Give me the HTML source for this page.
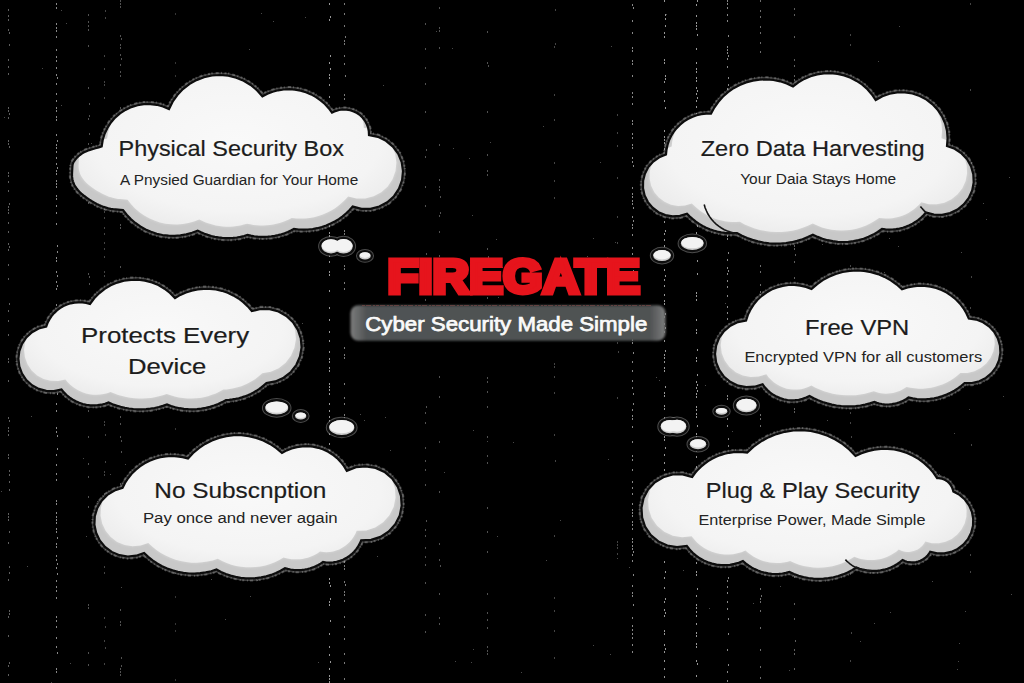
<!DOCTYPE html>
<html><head><meta charset="utf-8"><title>Firegate</title>
<style>
html,body{margin:0;padding:0;background:#000;}
body{width:1024px;height:683px;overflow:hidden;}
svg{display:block;}
text{font-family:"Liberation Sans",sans-serif;}
</style></head><body>
<svg width="1024" height="683" viewBox="0 0 1024 683">
<defs>
<filter id="bl2" x="-2%" y="-20%" width="104%" height="140%"><feGaussianBlur stdDeviation="0.9"/></filter>
<filter id="bl" x="-5%" y="-5%" width="110%" height="110%"><feGaussianBlur stdDeviation="1"/></filter>
<radialGradient id="wg" cx="50%" cy="45%" r="60%">
<stop offset="0" stop-color="#f9f9f9"/><stop offset="0.75" stop-color="#f4f4f4"/><stop offset="1" stop-color="#ebebeb"/>
</radialGradient>
<linearGradient id="ban" x1="0" y1="0" x2="1" y2="0">
<stop offset="0" stop-color="#7c7c7c"/><stop offset="0.05" stop-color="#505354"/><stop offset="0.95" stop-color="#4f5253"/><stop offset="1" stop-color="#7c7c7c"/>
</linearGradient>

<path id="c1" d="M101.7 146.4 L102.7 140.0 L104.6 133.8 L107.4 128.0 L110.9 122.5 L115.1 117.6 L120.0 113.4 L125.4 109.9 L131.3 107.1 L137.5 105.2 L143.9 104.2 L150.3 104.1 L156.8 104.8 L163.0 106.5 L169.0 109.0 L172.6 101.7 L177.3 95.0 L182.9 89.1 L189.3 84.1 L196.4 80.1 L204.0 77.2 L212.0 75.5 L220.1 75.0 L228.3 75.7 L236.2 77.7 L243.7 80.8 L250.7 85.0 L257.0 90.2 L262.4 96.3 L267.4 93.7 L272.7 91.7 L278.1 90.3 L283.7 89.5 L289.3 89.2 L294.9 89.6 L300.5 90.6 L305.9 92.2 L311.1 94.4 L316.0 97.1 L320.6 100.3 L324.9 104.0 L328.7 108.2 L332.0 112.7 L335.4 111.1 L339.0 110.0 L342.7 109.5 L346.4 109.6 L350.1 110.2 L353.7 111.4 L357.0 113.0 L360.1 115.2 L362.7 117.8 L365.0 120.8 L366.8 124.1 L368.1 127.6 L368.8 131.3 L369.0 135.0 L377.9 136.8 L386.0 140.8 L392.9 146.6 L398.3 153.9 L401.7 162.2 L403.0 171.2 L402.1 180.2 L399.0 188.7 L394.0 196.2 L387.3 202.3 L379.3 206.5 L370.5 208.8 L361.5 208.8 L352.7 206.6 L349.6 210.1 L346.2 213.3 L342.6 216.3 L338.8 219.1 L334.8 221.5 L330.6 223.6 L326.3 225.5 L321.8 227.0 L317.3 228.2 L312.7 229.0 L308.0 229.5 L303.3 229.7 L298.7 229.5 L294.0 229.0 L290.9 230.6 L287.8 232.0 L284.6 233.2 L281.4 234.2 L278.1 235.1 L274.7 235.8 L271.3 236.4 L267.9 236.7 L264.5 236.9 L261.1 236.9 L257.6 236.7 L254.2 236.3 L250.8 235.7 L247.5 235.0 L244.0 236.0 L240.4 236.9 L236.8 237.5 L233.1 237.9 L229.5 238.1 L225.8 238.1 L222.2 237.9 L218.5 237.4 L214.9 236.8 L211.3 236.0 L207.8 234.9 L204.4 233.7 L201.0 232.2 L197.7 230.6 L192.1 232.8 L186.3 234.4 L180.4 235.4 L174.5 235.9 L168.5 235.7 L162.5 235.0 L156.7 233.7 L151.0 231.8 L145.5 229.4 L140.3 226.4 L135.4 223.0 L130.8 219.1 L126.7 214.7 L123.0 210.0 L120.5 209.8 L118.1 209.6 L115.6 209.4 L113.1 209.2 L110.7 208.8 L108.3 208.3 L105.9 207.6 L103.6 206.9 L101.3 206.0 L99.0 205.0 L96.7 203.9 L94.4 202.6 L91.9 201.2 L89.4 199.6 L86.8 197.8 L84.3 196.0 L82.0 194.2 L80.0 192.4 L78.3 190.6 L76.9 188.8 L75.6 187.0 L74.5 185.2 L73.6 183.3 L72.9 181.3 L72.4 179.2 L72.1 176.9 L72.0 174.6 L72.1 172.3 L72.2 170.2 L72.3 168.3 L72.4 166.7 L72.5 165.4 L72.7 164.3 L73.0 163.2 L73.6 162.0 L74.4 160.8 L75.5 159.4 L76.7 157.9 L78.2 156.5 L79.9 155.0 L81.8 153.6 L84.0 152.3 L86.5 151.2 L89.3 150.1 L92.3 149.2 L95.5 148.3 L98.7 147.4 L101.7 146.4Z"/>
<clipPath id="clip_c1"><use href="#c1"/></clipPath>
<path id="c2" d="M666.0 154.5 L666.5 149.7 L667.5 145.0 L669.0 140.4 L671.1 136.0 L673.6 131.9 L676.6 128.1 L680.0 124.7 L683.7 121.6 L687.8 119.0 L692.1 116.9 L696.7 115.3 L701.4 114.2 L706.2 113.7 L711.0 113.7 L714.3 107.6 L718.2 102.0 L722.8 96.8 L728.0 92.2 L733.6 88.2 L739.7 85.0 L746.1 82.4 L752.8 80.6 L759.6 79.6 L766.5 79.4 L773.4 80.0 L780.2 81.3 L786.7 83.5 L793.0 86.4 L798.4 82.3 L804.3 78.9 L810.6 76.3 L817.2 74.4 L823.9 73.4 L830.7 73.2 L837.5 73.9 L844.2 75.4 L850.6 77.8 L856.6 80.9 L862.3 84.7 L867.4 89.3 L871.9 94.4 L875.7 100.0 L882.4 96.3 L889.6 93.7 L897.2 92.4 L904.9 92.3 L912.4 93.5 L919.7 96.0 L926.5 99.6 L932.5 104.3 L937.8 109.9 L942.0 116.3 L945.1 123.3 L947.0 130.7 L947.6 138.4 L947.0 146.0 L954.7 148.8 L961.5 153.4 L967.1 159.3 L971.1 166.5 L973.3 174.3 L973.7 182.5 L972.2 190.5 L968.8 198.0 L963.8 204.4 L957.5 209.6 L950.1 213.1 L942.1 214.8 L933.9 214.6 L926.0 212.5 L923.7 215.1 L921.1 217.6 L918.4 219.8 L915.6 221.8 L912.6 223.7 L909.4 225.3 L906.2 226.6 L902.9 227.7 L899.5 228.6 L896.0 229.2 L892.5 229.5 L889.0 229.6 L885.5 229.4 L882.0 229.0 L877.7 232.0 L873.2 234.6 L868.5 236.8 L863.6 238.7 L858.6 240.1 L853.5 241.2 L848.3 241.8 L843.1 242.0 L837.8 241.8 L832.7 241.2 L827.5 240.2 L822.5 238.8 L817.6 236.9 L812.9 234.7 L807.8 237.1 L802.5 239.2 L797.1 240.9 L791.6 242.2 L786.0 243.0 L780.4 243.5 L774.7 243.6 L769.1 243.3 L763.5 242.5 L757.9 241.4 L752.5 239.9 L747.2 238.0 L742.0 235.7 L737.0 233.0 L733.0 233.2 L729.1 233.2 L725.1 232.9 L721.2 232.3 L717.3 231.5 L713.5 230.5 L709.8 229.2 L706.1 227.7 L702.6 225.9 L699.2 223.9 L695.9 221.7 L692.8 219.2 L689.8 216.6 L687.0 213.8 L679.9 215.9 L672.6 216.4 L665.3 215.1 L658.5 212.2 L652.6 207.7 L647.9 202.1 L644.6 195.4 L643.0 188.2 L643.1 180.8 L644.9 173.7 L648.3 167.1 L653.2 161.6 L659.2 157.3 L666.0 154.5Z"/>
<clipPath id="clip_c2"><use href="#c2"/></clipPath>
<path id="c3" d="M46.2 326.5 L47.6 322.8 L49.4 319.4 L51.5 316.1 L54.1 313.1 L56.9 310.4 L60.0 308.1 L63.4 306.1 L67.0 304.5 L70.7 303.3 L74.5 302.6 L78.4 302.3 L82.4 302.4 L86.2 303.0 L90.0 304.0 L94.2 298.3 L99.1 293.3 L104.7 288.9 L110.7 285.3 L117.2 282.6 L124.0 280.7 L131.0 279.8 L138.0 279.7 L145.0 280.6 L151.9 282.4 L158.4 285.1 L164.5 288.7 L170.0 293.0 L175.0 298.0 L180.3 294.9 L185.9 292.5 L191.7 290.6 L197.7 289.4 L203.8 288.8 L209.9 288.8 L215.9 289.5 L221.9 290.8 L227.7 292.8 L233.2 295.4 L238.5 298.5 L243.3 302.2 L247.8 306.4 L251.8 311.0 L260.7 309.0 L269.7 309.2 L278.5 311.5 L286.4 316.0 L293.0 322.2 L297.9 329.9 L300.8 338.5 L301.6 347.5 L300.0 356.5 L296.4 364.8 L290.9 372.0 L283.7 377.7 L275.4 381.4 L266.5 383.0 L264.1 385.1 L261.6 387.2 L259.0 389.1 L256.4 390.8 L253.6 392.4 L250.7 393.9 L247.8 395.2 L244.8 396.4 L241.8 397.4 L238.7 398.2 L235.6 398.9 L232.4 399.4 L229.2 399.8 L226.0 400.0 L222.2 402.1 L218.2 404.0 L214.1 405.5 L209.9 406.9 L205.7 407.9 L201.4 408.7 L197.0 409.1 L192.7 409.3 L188.3 409.2 L183.9 408.8 L179.6 408.2 L175.3 407.2 L171.1 406.0 L167.0 404.5 L162.9 405.9 L158.8 407.0 L154.6 408.0 L150.4 408.7 L146.1 409.1 L141.8 409.3 L137.6 409.3 L133.3 409.0 L129.0 408.5 L124.8 407.8 L120.6 406.8 L116.5 405.6 L112.5 404.2 L108.5 402.5 L105.0 403.7 L101.3 404.7 L97.6 405.2 L93.9 405.4 L90.2 405.3 L86.4 404.8 L82.8 404.0 L79.2 402.8 L75.8 401.3 L72.5 399.5 L69.4 397.4 L66.5 395.0 L63.9 392.4 L61.5 389.5 L54.0 391.1 L46.2 390.9 L38.8 388.9 L32.0 385.2 L26.3 380.0 L22.0 373.6 L19.3 366.4 L18.4 358.7 L19.3 351.1 L22.0 343.8 L26.3 337.4 L32.0 332.2 L38.7 328.5 L46.2 326.5Z"/>
<clipPath id="clip_c3"><use href="#c3"/></clipPath>
<path id="c4" d="M746.1 320.5 L747.9 314.9 L750.4 309.6 L753.6 304.6 L757.3 300.0 L761.6 296.0 L766.4 292.5 L771.5 289.6 L777.0 287.4 L782.7 285.9 L788.5 285.0 L794.4 284.9 L800.2 285.6 L806.0 286.9 L811.5 289.0 L816.9 284.3 L822.7 280.1 L829.0 276.7 L835.7 274.0 L842.6 272.0 L849.7 270.9 L856.8 270.5 L864.0 270.9 L871.0 272.1 L877.9 274.1 L884.5 276.9 L890.8 280.4 L896.7 284.5 L902.0 289.3 L907.5 287.5 L913.2 286.3 L918.9 285.7 L924.7 285.8 L930.5 286.6 L936.1 288.0 L941.5 290.0 L946.7 292.6 L951.5 295.8 L956.0 299.5 L960.0 303.7 L963.5 308.3 L966.4 313.3 L968.8 318.6 L976.2 319.6 L983.1 322.3 L989.3 326.5 L994.3 331.9 L997.9 338.4 L1000.0 345.6 L1000.4 353.0 L999.1 360.3 L996.1 367.1 L991.6 373.1 L985.9 377.9 L979.3 381.2 L972.0 383.0 L964.6 383.0 L961.3 385.8 L957.9 388.4 L954.3 390.7 L950.5 392.8 L946.6 394.6 L942.5 396.1 L938.4 397.4 L934.2 398.3 L929.9 398.9 L925.6 399.3 L921.3 399.3 L917.0 399.0 L912.7 398.4 L908.5 397.5 L906.4 399.0 L904.2 400.2 L901.9 401.4 L899.5 402.3 L897.1 403.1 L894.6 403.7 L892.0 404.2 L889.5 404.4 L886.9 404.5 L884.4 404.3 L881.8 404.0 L879.3 403.5 L876.8 402.9 L874.4 402.0 L869.8 403.4 L865.2 404.6 L860.4 405.5 L855.7 406.1 L850.9 406.3 L846.1 406.3 L841.3 406.0 L836.5 405.5 L831.8 404.6 L827.2 403.4 L822.6 402.0 L818.1 400.2 L813.7 398.3 L809.5 396.0 L806.1 397.6 L802.5 398.9 L798.8 399.8 L795.0 400.2 L791.2 400.3 L787.5 400.0 L783.7 399.3 L780.1 398.1 L776.6 396.6 L773.3 394.8 L770.2 392.6 L767.4 390.1 L764.8 387.3 L762.6 384.2 L754.6 386.7 L746.3 387.2 L738.1 385.7 L730.6 382.1 L724.1 376.8 L719.2 370.0 L716.1 362.3 L715.0 354.0 L716.1 345.7 L719.1 337.9 L724.0 331.1 L730.4 325.7 L737.9 322.1 L746.1 320.5Z"/>
<clipPath id="clip_c4"><use href="#c4"/></clipPath>
<path id="c5" d="M122.5 487.9 L125.0 482.9 L128.1 478.2 L131.6 473.8 L135.6 469.9 L139.9 466.3 L144.6 463.3 L149.6 460.7 L154.9 458.7 L160.3 457.2 L165.8 456.3 L171.4 456.0 L177.0 456.3 L182.6 457.2 L188.0 458.6 L193.1 453.0 L198.9 448.1 L205.1 443.9 L211.9 440.5 L218.9 437.9 L226.3 436.1 L233.8 435.2 L241.3 435.2 L248.8 436.1 L256.2 437.9 L263.3 440.5 L270.0 443.9 L276.3 448.1 L282.0 453.0 L286.7 450.4 L291.7 448.5 L296.9 447.1 L302.3 446.3 L307.6 446.2 L313.0 446.7 L318.3 447.8 L323.4 449.5 L328.2 451.8 L332.8 454.7 L337.0 458.1 L340.7 461.9 L344.0 466.2 L346.8 470.8 L356.0 467.2 L365.8 466.3 L375.6 467.9 L384.5 472.0 L392.1 478.4 L397.7 486.5 L401.0 495.8 L401.7 505.7 L399.8 515.4 L395.3 524.2 L388.8 531.5 L380.5 536.9 L371.1 539.9 L361.2 540.3 L359.9 543.4 L358.2 546.4 L356.3 549.2 L354.1 551.8 L351.6 554.2 L349.0 556.3 L346.1 558.1 L343.0 559.7 L339.8 560.9 L336.6 561.8 L333.2 562.4 L329.8 562.6 L326.4 562.5 L323.0 562.0 L320.6 563.6 L318.2 565.0 L315.6 566.3 L313.0 567.4 L310.3 568.3 L307.5 569.0 L304.7 569.6 L301.9 569.9 L299.1 570.1 L296.2 570.1 L293.4 569.9 L290.5 569.5 L287.7 568.9 L285.0 568.2 L280.6 570.8 L275.9 573.0 L271.1 574.9 L266.2 576.4 L261.2 577.4 L256.1 578.1 L250.9 578.4 L245.8 578.3 L240.7 577.8 L235.6 576.9 L230.6 575.6 L225.8 574.0 L221.0 571.9 L216.5 569.5 L211.2 571.2 L205.7 572.4 L200.2 573.2 L194.6 573.6 L189.0 573.5 L183.4 572.9 L177.9 571.9 L172.5 570.4 L167.2 568.5 L162.1 566.2 L157.2 563.5 L152.6 560.3 L148.2 556.8 L144.1 553.0 L136.2 555.7 L127.8 556.5 L119.5 555.2 L111.7 551.9 L105.0 546.9 L99.7 540.4 L96.1 532.8 L94.4 524.6 L94.8 516.2 L97.2 508.1 L101.4 500.9 L107.3 494.9 L114.5 490.5 L122.5 487.9Z"/>
<clipPath id="clip_c5"><use href="#c5"/></clipPath>
<path id="c6" d="M692.1 477.0 L694.8 473.3 L697.7 469.9 L701.0 466.7 L704.4 463.8 L708.1 461.1 L712.0 458.8 L716.1 456.8 L720.3 455.1 L724.7 453.8 L729.1 452.8 L733.6 452.2 L738.1 452.0 L742.7 452.1 L747.2 452.6 L753.6 446.7 L760.7 441.6 L768.3 437.4 L776.4 434.1 L784.8 431.8 L793.4 430.5 L802.1 430.2 L810.8 431.0 L819.3 432.9 L827.6 435.7 L835.4 439.5 L842.7 444.2 L849.5 449.7 L855.5 456.0 L861.5 453.2 L867.8 451.1 L874.3 449.6 L880.9 448.9 L887.6 448.8 L894.2 449.5 L900.7 450.9 L907.0 453.0 L913.0 455.7 L918.8 459.1 L924.1 463.1 L929.0 467.6 L933.3 472.6 L937.1 478.1 L938.7 478.1 L940.3 478.4 L941.9 478.7 L943.5 479.3 L945.0 479.9 L946.4 480.8 L947.7 481.7 L948.9 482.8 L950.0 484.1 L950.9 485.4 L951.7 486.8 L952.4 488.3 L952.9 489.8 L953.3 491.4 L959.5 494.8 L964.9 499.5 L969.1 505.3 L971.9 511.8 L973.2 518.8 L973.0 525.9 L971.2 532.8 L967.9 539.2 L963.3 544.6 L957.7 548.9 L951.2 551.9 L944.3 553.4 L937.1 553.3 L930.2 551.7 L929.0 553.7 L927.6 555.5 L926.0 557.1 L924.2 558.5 L922.3 559.8 L920.3 560.8 L918.1 561.6 L915.9 562.1 L913.6 562.4 L911.3 562.4 L909.1 562.2 L906.8 561.7 L904.7 561.0 L902.6 560.0 L899.9 562.2 L896.9 564.2 L893.9 566.0 L890.7 567.5 L887.4 568.7 L884.0 569.7 L880.5 570.4 L877.0 570.8 L873.5 570.9 L870.0 570.8 L866.5 570.4 L863.0 569.7 L859.6 568.7 L856.3 567.5 L852.0 570.1 L847.6 572.5 L843.0 574.4 L838.2 576.0 L833.4 577.3 L828.4 578.2 L823.5 578.7 L818.4 578.9 L813.4 578.6 L808.5 578.0 L803.5 577.1 L798.7 575.7 L794.0 574.0 L789.4 572.0 L785.9 572.9 L782.4 573.5 L778.9 573.9 L775.3 574.0 L771.7 573.8 L768.2 573.4 L764.7 572.7 L761.2 571.8 L757.9 570.6 L754.6 569.1 L751.5 567.4 L748.5 565.5 L745.6 563.4 L742.9 561.0 L738.7 562.7 L734.4 563.9 L730.0 564.8 L725.5 565.1 L721.0 565.1 L716.5 564.6 L712.1 563.6 L707.9 562.3 L703.7 560.5 L699.8 558.3 L696.1 555.7 L692.7 552.8 L689.6 549.5 L686.8 546.0 L677.0 547.1 L667.3 545.5 L658.3 541.4 L650.8 535.1 L645.2 527.0 L642.1 517.6 L641.5 507.8 L643.5 498.2 L648.1 489.5 L654.9 482.3 L663.3 477.2 L672.7 474.5 L682.6 474.4 L692.1 477.0Z"/>
<clipPath id="clip_c6"><use href="#c6"/></clipPath>
</defs>
<rect width="1024" height="683" fill="#000"/>
<path d="M8 9h1v2h-1zM8 15h1v2h-1zM8 19h1v2h-1zM8 29h1v2h-1zM9 32h1v2h-1zM9 44h1v2h-1zM8 59h1v2h-1zM8 66h1v2h-1zM8 73h1v2h-1zM8 107h1v2h-1zM8 110h1v2h-1zM9 113h1v2h-1zM8 117h1v2h-1zM8 140h1v2h-1zM8 143h1v2h-1zM9 146h1v2h-1zM8 172h1v2h-1zM8 175h1v2h-1zM8 181h1v2h-1zM8 190h1v2h-1zM9 203h1v2h-1zM8 206h1v2h-1zM8 209h1v2h-1zM8 212h1v2h-1zM8 222h1v2h-1zM8 231h1v2h-1zM8 243h1v2h-1zM9 246h1v2h-1zM8 249h1v2h-1zM8 264h1v2h-1zM8 278h1v2h-1zM9 303h1v2h-1zM8 310h1v2h-1zM8 320h1v2h-1zM8 334h1v2h-1zM8 358h1v2h-1zM8 361h1v2h-1zM8 380h1v2h-1zM8 417h1v2h-1zM9 420h1v2h-1zM8 427h1v2h-1zM8 430h1v2h-1zM8 434h1v2h-1zM8 454h1v2h-1zM8 457h1v2h-1zM9 470h1v2h-1zM9 474h1v2h-1zM9 481h1v2h-1zM9 489h1v2h-1zM8 513h1v2h-1zM8 516h1v2h-1zM8 519h1v2h-1zM9 531h1v2h-1zM8 542h1v2h-1zM9 566h1v2h-1zM9 572h1v2h-1zM8 579h1v2h-1zM9 610h1v2h-1zM9 613h1v2h-1zM8 616h1v2h-1zM8 635h1v2h-1zM9 662h1v2h-1zM8 665h1v2h-1zM8 674h1v2h-1z" fill="#b4b4b4" opacity="0.52"/>
<path d="M56 3h1v2h-1zM56 7h1v2h-1zM56 23h1v2h-1zM56 27h1v2h-1zM56 30h1v2h-1zM56 36h1v2h-1zM56 49h1v2h-1zM56 56h1v2h-1zM56 60h1v2h-1zM56 67h1v2h-1zM56 74h1v2h-1zM57 77h1v2h-1zM56 83h1v2h-1zM56 93h1v2h-1zM56 100h1v2h-1zM56 107h1v2h-1zM56 110h1v2h-1zM56 116h1v2h-1zM56 119h1v2h-1zM56 134h1v2h-1zM57 140h1v2h-1zM56 144h1v2h-1zM56 147h1v2h-1zM56 151h1v2h-1zM56 157h1v2h-1zM56 163h1v2h-1zM57 167h1v2h-1zM56 170h1v2h-1zM56 173h1v2h-1zM56 180h1v2h-1zM56 183h1v2h-1zM56 186h1v2h-1zM56 195h1v2h-1zM56 198h1v2h-1zM56 205h1v2h-1zM56 212h1v2h-1zM56 223h1v2h-1zM57 245h1v2h-1zM57 251h1v2h-1zM56 257h1v2h-1zM56 260h1v2h-1zM56 271h1v2h-1zM57 275h1v2h-1zM56 281h1v2h-1zM57 285h1v2h-1zM56 288h1v2h-1zM56 304h1v2h-1zM56 310h1v2h-1zM56 317h1v2h-1zM57 323h1v2h-1zM56 337h1v2h-1zM56 341h1v2h-1zM56 344h1v2h-1zM56 347h1v2h-1zM56 356h1v2h-1zM57 360h1v2h-1zM56 363h1v2h-1zM56 366h1v2h-1zM56 369h1v2h-1zM57 373h1v2h-1zM56 383h1v2h-1zM57 393h1v2h-1zM56 403h1v2h-1zM56 410h1v2h-1zM56 427h1v2h-1zM56 431h1v2h-1zM57 435h1v2h-1zM57 448h1v2h-1zM56 454h1v2h-1zM56 464h1v2h-1zM56 473h1v2h-1zM56 479h1v2h-1zM56 500h1v2h-1zM56 503h1v2h-1zM56 512h1v2h-1zM56 516h1v2h-1zM56 519h1v2h-1zM56 522h1v2h-1zM56 528h1v2h-1zM56 531h1v2h-1zM57 537h1v2h-1zM56 543h1v2h-1zM56 546h1v2h-1zM56 555h1v2h-1zM56 559h1v2h-1zM57 563h1v2h-1zM56 567h1v2h-1zM57 573h1v2h-1zM56 580h1v2h-1zM56 586h1v2h-1zM56 590h1v2h-1zM56 597h1v2h-1zM56 616h1v2h-1zM56 620h1v2h-1zM56 626h1v2h-1zM56 637h1v2h-1zM56 646h1v2h-1zM57 652h1v2h-1zM56 668h1v2h-1zM56 671h1v2h-1z" fill="#b4b4b4" opacity="0.75"/>
<path d="M88 14h1v2h-1zM88 21h1v2h-1zM88 25h1v2h-1zM88 29h1v2h-1zM88 45h1v2h-1zM88 87h1v2h-1zM89 103h1v2h-1zM89 115h1v2h-1zM88 118h1v2h-1zM89 133h1v2h-1zM88 143h1v2h-1zM88 172h1v2h-1zM88 184h1v2h-1zM88 202h1v2h-1zM88 273h1v2h-1zM89 276h1v2h-1zM89 283h1v2h-1zM88 312h1v2h-1zM89 323h1v2h-1zM88 363h1v2h-1zM88 366h1v2h-1zM88 410h1v2h-1zM88 436h1v2h-1zM88 463h1v2h-1zM88 476h1v2h-1zM88 496h1v2h-1zM88 506h1v2h-1zM88 604h1v2h-1zM88 607h1v2h-1zM88 652h1v2h-1zM88 664h1v2h-1z" fill="#b4b4b4" opacity="0.45"/>
<path d="M105 10h1v2h-1zM105 17h1v2h-1zM104 55h1v2h-1zM104 68h1v2h-1zM104 81h1v2h-1zM104 84h1v2h-1zM104 97h1v2h-1zM104 144h1v2h-1zM104 181h1v2h-1zM104 208h1v2h-1zM104 211h1v2h-1zM104 217h1v2h-1zM104 227h1v2h-1zM104 233h1v2h-1zM104 242h1v2h-1zM104 248h1v2h-1zM104 256h1v2h-1zM104 271h1v2h-1zM104 275h1v2h-1zM104 292h1v2h-1zM104 368h1v2h-1zM104 392h1v2h-1zM104 421h1v2h-1zM104 424h1v2h-1zM105 434h1v2h-1zM105 461h1v2h-1zM104 471h1v2h-1zM104 474h1v2h-1zM104 493h1v2h-1zM105 511h1v2h-1zM104 527h1v2h-1zM104 539h1v2h-1zM104 566h1v2h-1zM104 572h1v2h-1zM104 617h1v2h-1zM105 626h1v2h-1zM104 640h1v2h-1zM105 647h1v2h-1zM104 663h1v2h-1z" fill="#b4b4b4" opacity="0.38"/>
<path d="M120 0h1v2h-1zM120 3h1v2h-1zM120 6h1v2h-1zM120 35h1v2h-1zM121 38h1v2h-1zM120 44h1v2h-1zM120 47h1v2h-1zM120 54h1v2h-1zM121 58h1v2h-1zM120 64h1v2h-1zM120 71h1v2h-1zM120 75h1v2h-1zM120 107h1v2h-1zM120 120h1v2h-1zM121 123h1v2h-1zM120 139h1v2h-1zM120 161h1v2h-1zM121 171h1v2h-1zM120 180h1v2h-1zM120 224h1v2h-1zM120 227h1v2h-1zM120 266h1v2h-1zM120 305h1v2h-1zM120 311h1v2h-1zM121 325h1v2h-1zM120 383h1v2h-1zM120 393h1v2h-1zM120 399h1v2h-1zM120 416h1v2h-1zM120 423h1v2h-1zM120 436h1v2h-1zM121 440h1v2h-1zM121 451h1v2h-1zM120 483h1v2h-1zM120 534h1v2h-1zM120 543h1v2h-1zM120 546h1v2h-1zM120 553h1v2h-1zM120 609h1v2h-1zM120 621h1v2h-1zM120 624h1v2h-1zM121 657h1v2h-1zM121 665h1v2h-1zM120 668h1v2h-1zM120 671h1v2h-1zM120 674h1v2h-1z" fill="#b4b4b4" opacity="0.45"/>
<path d="M175 13h1v2h-1zM175 62h1v2h-1zM175 75h1v2h-1zM175 141h1v2h-1zM175 174h1v2h-1zM175 208h1v2h-1zM175 309h1v2h-1zM175 355h1v2h-1zM175 389h1v2h-1zM175 428h1v2h-1zM175 500h1v2h-1zM175 506h1v2h-1zM175 515h1v2h-1zM175 518h1v2h-1zM176 522h1v2h-1zM175 538h1v2h-1zM175 572h1v2h-1zM175 596h1v2h-1zM175 623h1v2h-1zM175 630h1v2h-1zM175 679h1v2h-1z" fill="#b4b4b4" opacity="0.30"/>
<path d="M329 3h1v2h-1zM330 16h1v2h-1zM329 19h1v2h-1zM330 55h1v2h-1zM329 62h1v2h-1zM330 68h1v2h-1zM329 74h1v2h-1zM329 77h1v2h-1zM329 84h1v2h-1zM329 96h1v2h-1zM329 118h1v2h-1zM329 121h1v2h-1zM329 138h1v2h-1zM329 142h1v2h-1zM329 164h1v2h-1zM330 168h1v2h-1zM329 180h1v2h-1zM329 183h1v2h-1zM329 191h1v2h-1zM330 201h1v2h-1zM329 213h1v2h-1zM329 216h1v2h-1zM329 219h1v2h-1zM329 225h1v2h-1zM329 232h1v2h-1zM329 235h1v2h-1zM329 241h1v2h-1zM329 255h1v2h-1zM329 261h1v2h-1zM329 271h1v2h-1zM329 274h1v2h-1zM329 290h1v2h-1zM329 307h1v2h-1zM329 319h1v2h-1zM329 331h1v2h-1zM329 340h1v2h-1zM329 351h1v2h-1zM329 358h1v2h-1zM329 361h1v2h-1zM329 367h1v2h-1zM329 370h1v2h-1zM329 383h1v2h-1zM329 386h1v2h-1zM329 389h1v2h-1zM329 393h1v2h-1zM329 403h1v2h-1zM329 410h1v2h-1zM329 416h1v2h-1zM329 420h1v2h-1zM329 430h1v2h-1zM329 433h1v2h-1zM329 443h1v2h-1zM329 450h1v2h-1zM329 454h1v2h-1zM329 463h1v2h-1zM329 470h1v2h-1zM329 476h1v2h-1zM329 479h1v2h-1zM329 497h1v2h-1zM329 500h1v2h-1zM329 503h1v2h-1zM329 512h1v2h-1zM329 520h1v2h-1zM329 538h1v2h-1zM329 541h1v2h-1zM329 544h1v2h-1zM329 560h1v2h-1zM329 578h1v2h-1zM329 582h1v2h-1zM330 585h1v2h-1zM330 598h1v2h-1zM329 601h1v2h-1zM329 604h1v2h-1zM330 620h1v2h-1zM329 633h1v2h-1zM329 646h1v2h-1zM329 654h1v2h-1zM330 661h1v2h-1zM329 668h1v2h-1zM329 675h1v2h-1zM329 678h1v2h-1zM329 681h1v2h-1z" fill="#b4b4b4" opacity="0.83"/>
<path d="M344 3h1v2h-1zM344 13h1v2h-1zM344 25h1v2h-1zM345 36h1v2h-1zM344 40h1v2h-1zM344 43h1v2h-1zM344 55h1v2h-1zM344 63h1v2h-1zM345 75h1v2h-1zM344 94h1v2h-1zM344 98h1v2h-1zM344 116h1v2h-1zM344 119h1v2h-1zM344 122h1v2h-1zM344 153h1v2h-1zM344 191h1v2h-1zM344 194h1v2h-1zM344 230h1v2h-1zM344 233h1v2h-1zM344 249h1v2h-1zM344 265h1v2h-1zM344 268h1v2h-1zM344 282h1v2h-1zM344 288h1v2h-1zM344 347h1v2h-1zM344 354h1v2h-1zM344 357h1v2h-1zM344 383h1v2h-1zM344 397h1v2h-1zM344 403h1v2h-1zM344 414h1v2h-1zM344 417h1v2h-1zM344 424h1v2h-1zM344 468h1v2h-1zM344 561h1v2h-1zM344 565h1v2h-1zM344 568h1v2h-1zM344 581h1v2h-1zM345 584h1v2h-1zM344 591h1v2h-1zM344 594h1v2h-1zM344 600h1v2h-1zM344 616h1v2h-1zM344 626h1v2h-1zM344 638h1v2h-1zM344 653h1v2h-1zM344 662h1v2h-1zM344 678h1v2h-1z" fill="#b4b4b4" opacity="0.68"/>
<path d="M425 23h1v2h-1zM425 48h1v2h-1zM425 67h1v2h-1zM425 83h1v2h-1zM425 111h1v2h-1zM426 149h1v2h-1zM425 156h1v2h-1zM425 186h1v2h-1zM425 205h1v2h-1zM426 253h1v2h-1zM425 277h1v2h-1zM425 299h1v2h-1zM426 406h1v2h-1zM425 412h1v2h-1zM425 422h1v2h-1zM425 447h1v2h-1zM425 460h1v2h-1zM425 469h1v2h-1zM425 484h1v2h-1zM426 520h1v2h-1zM425 529h1v2h-1zM425 535h1v2h-1zM425 547h1v2h-1zM425 556h1v2h-1zM425 564h1v2h-1zM425 582h1v2h-1zM425 614h1v2h-1zM425 631h1v2h-1z" fill="#b4b4b4" opacity="0.45"/>
<path d="M439 7h1v2h-1zM439 27h1v2h-1zM439 30h1v2h-1zM439 47h1v2h-1zM439 144h1v2h-1zM439 179h1v2h-1zM439 186h1v2h-1zM439 189h1v2h-1zM440 196h1v2h-1zM440 212h1v2h-1zM439 215h1v2h-1zM439 231h1v2h-1zM439 255h1v2h-1zM439 274h1v2h-1zM439 313h1v2h-1zM439 323h1v2h-1zM440 334h1v2h-1zM439 376h1v2h-1zM439 396h1v2h-1zM439 441h1v2h-1zM439 491h1v2h-1zM439 543h1v2h-1zM439 559h1v2h-1zM440 565h1v2h-1zM439 593h1v2h-1zM439 617h1v2h-1zM439 623h1v2h-1z" fill="#b4b4b4" opacity="0.45"/>
<path d="M487 31h1v2h-1zM487 62h1v2h-1zM488 65h1v2h-1zM487 111h1v2h-1zM487 154h1v2h-1zM487 170h1v2h-1zM487 174h1v2h-1zM487 248h1v2h-1zM488 256h1v2h-1zM487 259h1v2h-1zM487 262h1v2h-1zM487 297h1v2h-1zM487 317h1v2h-1zM487 377h1v2h-1zM487 381h1v2h-1zM487 391h1v2h-1zM487 406h1v2h-1zM487 436h1v2h-1zM487 455h1v2h-1zM487 462h1v2h-1zM487 507h1v2h-1zM487 531h1v2h-1zM487 551h1v2h-1zM487 593h1v2h-1zM487 612h1v2h-1zM487 619h1v2h-1zM487 627h1v2h-1zM487 646h1v2h-1zM487 650h1v2h-1zM487 653h1v2h-1z" fill="#b4b4b4" opacity="0.45"/>
<path d="M555 9h1v2h-1zM555 43h1v2h-1zM554 46h1v2h-1zM554 94h1v2h-1zM554 119h1v2h-1zM554 162h1v2h-1zM554 180h1v2h-1zM554 197h1v2h-1zM554 363h1v2h-1zM554 366h1v2h-1zM554 376h1v2h-1zM554 392h1v2h-1zM554 434h1v2h-1zM555 460h1v2h-1zM554 535h1v2h-1zM554 597h1v2h-1zM554 610h1v2h-1zM554 630h1v2h-1zM554 657h1v2h-1z" fill="#b4b4b4" opacity="0.38"/>
<path d="M617 114h1v2h-1zM617 132h1v2h-1zM617 145h1v2h-1zM617 177h1v2h-1zM617 216h1v2h-1zM617 242h1v2h-1zM617 325h1v2h-1zM617 342h1v2h-1zM618 351h1v2h-1zM617 397h1v2h-1zM617 541h1v2h-1zM617 544h1v2h-1zM617 547h1v2h-1zM617 553h1v2h-1z" fill="#b4b4b4" opacity="0.38"/>
<path d="M632 4h1v2h-1zM633 7h1v2h-1zM632 20h1v2h-1zM632 32h1v2h-1zM632 47h1v2h-1zM632 50h1v2h-1zM632 60h1v2h-1zM632 63h1v2h-1zM632 75h1v2h-1zM632 92h1v2h-1zM632 96h1v2h-1zM632 103h1v2h-1zM632 120h1v2h-1zM632 123h1v2h-1zM632 133h1v2h-1zM632 137h1v2h-1zM632 144h1v2h-1zM632 147h1v2h-1zM632 157h1v2h-1zM632 161h1v2h-1zM633 165h1v2h-1zM632 187h1v2h-1zM632 193h1v2h-1zM632 196h1v2h-1zM632 200h1v2h-1zM632 203h1v2h-1zM633 207h1v2h-1zM632 216h1v2h-1zM633 220h1v2h-1zM632 224h1v2h-1zM632 227h1v2h-1zM632 234h1v2h-1zM632 247h1v2h-1zM632 253h1v2h-1zM632 260h1v2h-1zM633 270h1v2h-1zM633 287h1v2h-1zM632 326h1v2h-1zM632 339h1v2h-1zM632 342h1v2h-1zM633 352h1v2h-1zM632 361h1v2h-1zM632 370h1v2h-1zM632 380h1v2h-1zM632 387h1v2h-1zM633 393h1v2h-1zM633 403h1v2h-1zM632 409h1v2h-1zM632 415h1v2h-1zM632 418h1v2h-1zM632 426h1v2h-1zM632 441h1v2h-1zM632 455h1v2h-1zM632 459h1v2h-1zM632 469h1v2h-1zM632 481h1v2h-1zM632 487h1v2h-1zM632 493h1v2h-1zM632 503h1v2h-1zM632 509h1v2h-1zM632 512h1v2h-1zM632 515h1v2h-1zM632 521h1v2h-1zM632 524h1v2h-1zM632 528h1v2h-1zM632 538h1v2h-1zM632 541h1v2h-1zM632 545h1v2h-1zM632 548h1v2h-1zM633 551h1v2h-1zM632 554h1v2h-1zM632 560h1v2h-1zM633 574h1v2h-1zM632 585h1v2h-1zM632 592h1v2h-1zM632 595h1v2h-1zM633 604h1v2h-1zM632 617h1v2h-1zM632 625h1v2h-1zM632 629h1v2h-1zM632 633h1v2h-1zM632 637h1v2h-1zM632 644h1v2h-1zM632 651h1v2h-1z" fill="#b4b4b4" opacity="0.75"/>
<path d="M664 0h1v2h-1zM665 14h1v2h-1zM665 18h1v2h-1zM665 25h1v2h-1zM664 32h1v2h-1zM664 36h1v2h-1zM664 59h1v2h-1zM664 62h1v2h-1zM665 75h1v2h-1zM665 78h1v2h-1zM664 81h1v2h-1zM664 91h1v2h-1zM664 100h1v2h-1zM665 107h1v2h-1zM664 130h1v2h-1zM664 136h1v2h-1zM664 139h1v2h-1zM664 142h1v2h-1zM664 148h1v2h-1zM664 155h1v2h-1zM664 158h1v2h-1zM664 162h1v2h-1zM664 168h1v2h-1zM664 176h1v2h-1zM665 183h1v2h-1zM664 187h1v2h-1zM664 197h1v2h-1zM664 200h1v2h-1zM664 204h1v2h-1zM664 214h1v2h-1zM664 221h1v2h-1zM665 230h1v2h-1zM664 233h1v2h-1zM664 239h1v2h-1zM664 245h1v2h-1zM664 249h1v2h-1zM664 252h1v2h-1zM664 269h1v2h-1zM665 275h1v2h-1zM664 279h1v2h-1zM664 285h1v2h-1zM664 294h1v2h-1zM664 300h1v2h-1zM664 303h1v2h-1zM665 313h1v2h-1zM664 316h1v2h-1zM664 323h1v2h-1zM665 327h1v2h-1zM664 331h1v2h-1zM664 340h1v2h-1zM665 350h1v2h-1zM664 354h1v2h-1zM664 357h1v2h-1zM664 361h1v2h-1zM664 367h1v2h-1zM664 370h1v2h-1zM665 386h1v2h-1zM664 392h1v2h-1zM664 395h1v2h-1zM664 405h1v2h-1zM664 408h1v2h-1zM664 417h1v2h-1zM665 432h1v2h-1zM664 436h1v2h-1zM664 439h1v2h-1zM665 447h1v2h-1zM664 454h1v2h-1zM664 462h1v2h-1zM664 469h1v2h-1zM664 479h1v2h-1zM665 483h1v2h-1zM664 498h1v2h-1zM664 501h1v2h-1zM664 510h1v2h-1zM664 514h1v2h-1zM664 518h1v2h-1zM664 561h1v2h-1zM665 571h1v2h-1zM664 577h1v2h-1zM664 587h1v2h-1zM665 598h1v2h-1zM664 601h1v2h-1zM664 609h1v2h-1zM665 612h1v2h-1zM664 615h1v2h-1zM664 630h1v2h-1zM664 633h1v2h-1zM664 644h1v2h-1zM665 648h1v2h-1zM664 651h1v2h-1zM664 660h1v2h-1zM664 668h1v2h-1zM664 676h1v2h-1z" fill="#b4b4b4" opacity="0.83"/>
<path d="M697 0h1v2h-1zM696 4h1v2h-1zM696 15h1v2h-1zM696 22h1v2h-1zM696 25h1v2h-1zM696 28h1v2h-1zM697 34h1v2h-1zM696 48h1v2h-1zM696 62h1v2h-1zM696 68h1v2h-1zM696 71h1v2h-1zM696 77h1v2h-1zM696 80h1v2h-1zM696 87h1v2h-1zM697 90h1v2h-1zM696 93h1v2h-1zM697 97h1v2h-1zM696 100h1v2h-1zM696 106h1v2h-1zM696 113h1v2h-1zM696 116h1v2h-1zM697 125h1v2h-1zM696 137h1v2h-1zM696 147h1v2h-1zM696 151h1v2h-1zM696 155h1v2h-1zM696 162h1v2h-1zM696 166h1v2h-1zM697 175h1v2h-1zM696 184h1v2h-1zM696 193h1v2h-1zM696 196h1v2h-1zM696 203h1v2h-1zM696 207h1v2h-1zM697 225h1v2h-1zM696 232h1v2h-1zM696 239h1v2h-1zM697 260h1v2h-1zM697 273h1v2h-1zM696 292h1v2h-1zM696 295h1v2h-1zM696 299h1v2h-1zM696 319h1v2h-1zM696 329h1v2h-1zM696 332h1v2h-1zM697 349h1v2h-1zM696 357h1v2h-1zM696 360h1v2h-1zM697 374h1v2h-1zM696 381h1v2h-1zM697 384h1v2h-1zM696 387h1v2h-1zM697 390h1v2h-1zM696 393h1v2h-1zM696 396h1v2h-1zM696 406h1v2h-1zM696 409h1v2h-1zM696 413h1v2h-1zM696 416h1v2h-1zM697 425h1v2h-1zM696 433h1v2h-1zM696 436h1v2h-1zM696 444h1v2h-1zM696 450h1v2h-1zM696 456h1v2h-1zM696 466h1v2h-1zM697 469h1v2h-1zM696 472h1v2h-1zM696 475h1v2h-1zM696 481h1v2h-1zM696 484h1v2h-1zM696 490h1v2h-1zM696 516h1v2h-1zM696 534h1v2h-1zM697 540h1v2h-1zM696 546h1v2h-1zM696 549h1v2h-1zM697 555h1v2h-1zM696 562h1v2h-1zM696 571h1v2h-1zM696 574h1v2h-1zM697 588h1v2h-1zM696 595h1v2h-1zM696 604h1v2h-1zM696 607h1v2h-1zM696 611h1v2h-1zM696 615h1v2h-1zM696 623h1v2h-1zM696 632h1v2h-1zM696 635h1v2h-1zM696 643h1v2h-1zM696 646h1v2h-1zM696 660h1v2h-1zM697 663h1v2h-1zM696 675h1v2h-1z" fill="#b4b4b4" opacity="0.83"/>
<path d="M727 0h1v2h-1zM727 3h1v2h-1zM727 7h1v2h-1zM727 14h1v2h-1zM727 20h1v2h-1zM728 35h1v2h-1zM727 46h1v2h-1zM727 49h1v2h-1zM727 52h1v2h-1zM728 55h1v2h-1zM727 58h1v2h-1zM727 66h1v2h-1zM728 77h1v2h-1zM728 84h1v2h-1zM727 88h1v2h-1zM727 92h1v2h-1zM727 99h1v2h-1zM727 105h1v2h-1zM728 108h1v2h-1zM727 142h1v2h-1zM727 152h1v2h-1zM727 171h1v2h-1zM727 177h1v2h-1zM727 180h1v2h-1zM727 187h1v2h-1zM727 190h1v2h-1zM727 222h1v2h-1zM727 228h1v2h-1zM727 235h1v2h-1zM727 238h1v2h-1zM728 252h1v2h-1zM727 259h1v2h-1zM727 267h1v2h-1zM728 270h1v2h-1zM727 273h1v2h-1zM727 280h1v2h-1zM727 286h1v2h-1zM727 295h1v2h-1zM727 306h1v2h-1zM727 312h1v2h-1zM727 318h1v2h-1zM727 337h1v2h-1zM727 370h1v2h-1zM727 377h1v2h-1zM727 380h1v2h-1zM727 395h1v2h-1zM727 398h1v2h-1zM727 418h1v2h-1zM727 425h1v2h-1zM728 438h1v2h-1zM728 445h1v2h-1zM727 462h1v2h-1zM727 484h1v2h-1zM727 494h1v2h-1zM728 516h1v2h-1zM727 522h1v2h-1zM727 531h1v2h-1zM727 541h1v2h-1zM727 544h1v2h-1zM728 577h1v2h-1zM727 580h1v2h-1zM727 586h1v2h-1zM727 592h1v2h-1zM727 601h1v2h-1zM727 608h1v2h-1zM728 618h1v2h-1zM728 633h1v2h-1zM727 649h1v2h-1zM728 664h1v2h-1zM727 671h1v2h-1zM727 680h1v2h-1z" fill="#b4b4b4" opacity="0.75"/>
<path d="M760 0h1v2h-1zM760 10h1v2h-1zM760 16h1v2h-1zM760 26h1v2h-1zM760 32h1v2h-1zM760 42h1v2h-1zM760 51h1v2h-1zM761 105h1v2h-1zM760 108h1v2h-1zM760 114h1v2h-1zM760 143h1v2h-1zM760 158h1v2h-1zM760 171h1v2h-1zM761 188h1v2h-1zM760 191h1v2h-1zM760 194h1v2h-1zM760 197h1v2h-1zM760 210h1v2h-1zM760 219h1v2h-1zM760 265h1v2h-1zM760 271h1v2h-1zM760 284h1v2h-1zM760 291h1v2h-1zM760 294h1v2h-1zM760 315h1v2h-1zM760 319h1v2h-1zM760 337h1v2h-1zM760 354h1v2h-1zM760 363h1v2h-1zM760 375h1v2h-1zM760 414h1v2h-1zM760 418h1v2h-1zM760 425h1v2h-1zM761 442h1v2h-1zM760 445h1v2h-1zM760 451h1v2h-1zM760 474h1v2h-1zM760 477h1v2h-1zM760 510h1v2h-1zM760 518h1v2h-1zM760 525h1v2h-1zM761 541h1v2h-1zM760 559h1v2h-1zM760 562h1v2h-1zM760 568h1v2h-1zM761 571h1v2h-1zM760 588h1v2h-1zM761 595h1v2h-1zM760 598h1v2h-1zM760 601h1v2h-1zM760 610h1v2h-1zM760 627h1v2h-1zM760 649h1v2h-1zM760 666h1v2h-1zM760 677h1v2h-1z" fill="#b4b4b4" opacity="0.60"/>
<path d="M794 8h1v2h-1zM794 14h1v2h-1zM794 36h1v2h-1zM794 59h1v2h-1zM794 65h1v2h-1zM794 75h1v2h-1zM794 79h1v2h-1zM795 85h1v2h-1zM794 93h1v2h-1zM794 100h1v2h-1zM794 113h1v2h-1zM794 116h1v2h-1zM794 133h1v2h-1zM794 150h1v2h-1zM794 157h1v2h-1zM794 163h1v2h-1zM794 181h1v2h-1zM794 196h1v2h-1zM794 202h1v2h-1zM794 212h1v2h-1zM794 219h1v2h-1zM794 233h1v2h-1zM794 236h1v2h-1zM794 245h1v2h-1zM794 248h1v2h-1zM795 254h1v2h-1zM794 261h1v2h-1zM794 277h1v2h-1zM794 297h1v2h-1zM794 326h1v2h-1zM794 349h1v2h-1zM794 372h1v2h-1zM794 408h1v2h-1zM794 411h1v2h-1zM794 429h1v2h-1zM794 463h1v2h-1zM794 466h1v2h-1zM794 469h1v2h-1zM794 473h1v2h-1zM794 481h1v2h-1zM794 495h1v2h-1zM794 498h1v2h-1zM794 536h1v2h-1zM794 555h1v2h-1zM794 573h1v2h-1zM794 576h1v2h-1zM794 603h1v2h-1zM794 618h1v2h-1zM795 640h1v2h-1zM794 649h1v2h-1zM794 653h1v2h-1zM794 668h1v2h-1z" fill="#b4b4b4" opacity="0.52"/>
<path d="M850 34h1v2h-1zM850 44h1v2h-1zM850 77h1v2h-1zM850 89h1v2h-1zM851 115h1v2h-1zM850 208h1v2h-1zM850 211h1v2h-1zM850 265h1v2h-1zM850 269h1v2h-1zM850 356h1v2h-1zM850 383h1v2h-1zM850 412h1v2h-1zM850 422h1v2h-1zM851 436h1v2h-1zM851 471h1v2h-1zM850 553h1v2h-1zM850 566h1v2h-1zM850 573h1v2h-1zM851 632h1v2h-1zM850 660h1v2h-1z" fill="#b4b4b4" opacity="0.38"/>
<path d="M970 3h1v2h-1zM970 89h1v2h-1zM971 162h1v2h-1zM971 276h1v2h-1zM970 307h1v2h-1zM970 369h1v2h-1zM970 382h1v2h-1zM971 444h1v2h-1zM970 554h1v2h-1zM970 571h1v2h-1z" fill="#b4b4b4" opacity="0.38"/>
<path d="M286 92h1v1h-1zM92 311h1v1h-1zM889 238h1v1h-1zM656 377h1v1h-1zM249 49h1v1h-1zM787 336h1v1h-1zM31 416h1v1h-1zM890 612h1v1h-1zM611 46h1v1h-1zM754 211h1v1h-1zM709 608h1v1h-1zM954 433h1v1h-1zM273 21h1v1h-1zM969 409h1v1h-1zM513 442h1v1h-1zM725 303h1v1h-1zM827 420h1v1h-1zM4 117h1v1h-1zM261 13h1v1h-1zM911 488h1v1h-1zM959 643h1v1h-1zM904 299h1v1h-1zM61 105h1v1h-1zM1 491h1v1h-1zM97 501h1v1h-1zM658 484h1v1h-1zM121 587h1v1h-1zM455 661h1v1h-1zM610 654h1v1h-1zM487 441h1v1h-1zM191 302h1v1h-1zM210 445h1v1h-1zM593 238h1v1h-1zM436 31h1v1h-1zM574 281h1v1h-1zM961 171h1v1h-1zM51 682h1v1h-1zM110 474h1v1h-1zM871 109h1v1h-1zM169 546h1v1h-1zM154 360h1v1h-1zM668 507h1v1h-1zM965 611h1v1h-1zM383 85h1v1h-1zM957 669h1v1h-1zM61 10h1v1h-1zM360 414h1v1h-1zM844 473h1v1h-1zM268 517h1v1h-1zM945 547h1v1h-1zM877 338h1v1h-1zM305 17h1v1h-1zM370 170h1v1h-1zM86 536h1v1h-1zM593 645h1v1h-1zM229 516h1v1h-1zM72 339h1v1h-1zM377 556h1v1h-1zM775 171h1v1h-1zM192 233h1v1h-1zM837 448h1v1h-1zM238 478h1v1h-1zM219 155h1v1h-1zM741 340h1v1h-1zM453 148h1v1h-1zM543 126h1v1h-1zM898 246h1v1h-1zM390 450h1v1h-1zM226 205h1v1h-1zM138 137h1v1h-1zM452 48h1v1h-1zM250 596h1v1h-1zM166 143h1v1h-1zM546 560h1v1h-1zM878 61h1v1h-1zM789 670h1v1h-1zM498 297h1v1h-1zM125 464h1v1h-1zM224 466h1v1h-1zM705 385h1v1h-1zM91 143h1v1h-1zM617 558h1v1h-1zM894 528h1v1h-1zM318 662h1v1h-1zM1009 177h1v1h-1zM1003 396h1v1h-1zM587 256h1v1h-1zM889 217h1v1h-1zM426 290h1v1h-1zM860 641h1v1h-1zM479 315h1v1h-1zM560 520h1v1h-1zM837 366h1v1h-1zM961 252h1v1h-1zM659 380h1v1h-1zM600 162h1v1h-1zM899 26h1v1h-1zM901 536h1v1h-1zM502 267h1v1h-1zM822 244h1v1h-1zM133 403h1v1h-1zM844 355h1v1h-1zM647 189h1v1h-1zM958 661h1v1h-1zM225 619h1v1h-1zM884 272h1v1h-1zM469 158h1v1h-1zM856 529h1v1h-1zM908 134h1v1h-1zM608 459h1v1h-1zM218 313h1v1h-1zM70 663h1v1h-1zM685 136h1v1h-1zM732 431h1v1h-1zM683 570h1v1h-1zM780 586h1v1h-1zM798 197h1v1h-1zM302 323h1v1h-1zM744 457h1v1h-1zM666 14h1v1h-1zM939 474h1v1h-1zM983 203h1v1h-1zM42 68h1v1h-1zM257 580h1v1h-1zM83 458h1v1h-1zM878 324h1v1h-1zM385 417h1v1h-1zM861 351h1v1h-1zM888 373h1v1h-1zM444 472h1v1h-1zM48 371h1v1h-1zM731 550h1v1h-1zM1011 594h1v1h-1zM473 430h1v1h-1zM932 581h1v1h-1zM211 579h1v1h-1zM496 239h1v1h-1zM521 672h1v1h-1zM577 286h1v1h-1zM66 23h1v1h-1zM497 536h1v1h-1zM500 317h1v1h-1zM629 567h1v1h-1zM375 518h1v1h-1zM364 420h1v1h-1zM143 180h1v1h-1zM473 649h1v1h-1zM714 412h1v1h-1zM180 302h1v1h-1zM753 603h1v1h-1zM377 149h1v1h-1zM874 623h1v1h-1zM471 662h1v1h-1zM615 242h1v1h-1zM490 142h1v1h-1zM27 566h1v1h-1zM324 513h1v1h-1zM986 219h1v1h-1zM472 215h1v1h-1zM775 106h1v1h-1z" fill="#909090" opacity="0.5"/>
<use href="#c1" fill="none" stroke="#a8a8a8" stroke-width="5.2" opacity="0.35"/>
<use href="#c1" fill="none" stroke="#b8b8b8" stroke-width="6.4" opacity="0.35" stroke-dasharray="2 1.5 1 3 3 2 1 2.5"/>
<use href="#c1" fill="#c8c8c8"/>
<g clip-path="url(#clip_c1)"><use href="#c1" fill="#d6d6d6" transform="translate(237.65 148.30) scale(0.966) translate(-237.65 -156.50)" filter="url(#bl)"/><use href="#c1" fill="url(#wg)" transform="translate(237.65 148.30) scale(0.960) translate(-237.65 -156.50)"/></g>
<use href="#c1" fill="none" stroke="#0c0c0c" stroke-width="2.2"/>
<use href="#c2" fill="none" stroke="#a8a8a8" stroke-width="5.2" opacity="0.35"/>
<use href="#c2" fill="none" stroke="#b8b8b8" stroke-width="6.4" opacity="0.35" stroke-dasharray="2 1.5 1 3 3 2 1 2.5"/>
<use href="#c2" fill="#c8c8c8"/>
<g clip-path="url(#clip_c2)"><use href="#c2" fill="#d6d6d6" transform="translate(808.55 150.15) scale(0.966) translate(-808.55 -158.35)" filter="url(#bl)"/><use href="#c2" fill="url(#wg)" transform="translate(808.55 150.15) scale(0.960) translate(-808.55 -158.35)"/></g>
<use href="#c2" fill="none" stroke="#0c0c0c" stroke-width="2.2"/>
<use href="#c3" fill="none" stroke="#a8a8a8" stroke-width="5.2" opacity="0.35"/>
<use href="#c3" fill="none" stroke="#b8b8b8" stroke-width="6.4" opacity="0.35" stroke-dasharray="2 1.5 1 3 3 2 1 2.5"/>
<use href="#c3" fill="#c8c8c8"/>
<g clip-path="url(#clip_c3)"><use href="#c3" fill="#d6d6d6" transform="translate(160.00 336.60) scale(0.966) translate(-160.00 -344.80)" filter="url(#bl)"/><use href="#c3" fill="url(#wg)" transform="translate(160.00 336.60) scale(0.960) translate(-160.00 -344.80)"/></g>
<use href="#c3" fill="none" stroke="#0c0c0c" stroke-width="2.2"/>
<use href="#c4" fill="none" stroke="#a8a8a8" stroke-width="5.2" opacity="0.35"/>
<use href="#c4" fill="none" stroke="#b8b8b8" stroke-width="6.4" opacity="0.35" stroke-dasharray="2 1.5 1 3 3 2 1 2.5"/>
<use href="#c4" fill="#c8c8c8"/>
<g clip-path="url(#clip_c4)"><use href="#c4" fill="#d6d6d6" transform="translate(857.90 329.95) scale(0.966) translate(-857.90 -338.15)" filter="url(#bl)"/><use href="#c4" fill="url(#wg)" transform="translate(857.90 329.95) scale(0.960) translate(-857.90 -338.15)"/></g>
<use href="#c4" fill="none" stroke="#0c0c0c" stroke-width="2.2"/>
<use href="#c5" fill="none" stroke="#a8a8a8" stroke-width="5.2" opacity="0.35"/>
<use href="#c5" fill="none" stroke="#b8b8b8" stroke-width="6.4" opacity="0.35" stroke-dasharray="2 1.5 1 3 3 2 1 2.5"/>
<use href="#c5" fill="#c8c8c8"/>
<g clip-path="url(#clip_c5)"><use href="#c5" fill="#d6d6d6" transform="translate(248.05 498.60) scale(0.966) translate(-248.05 -506.80)" filter="url(#bl)"/><use href="#c5" fill="url(#wg)" transform="translate(248.05 498.60) scale(0.960) translate(-248.05 -506.80)"/></g>
<use href="#c5" fill="none" stroke="#0c0c0c" stroke-width="2.2"/>
<use href="#c6" fill="none" stroke="#a8a8a8" stroke-width="5.2" opacity="0.35"/>
<use href="#c6" fill="none" stroke="#b8b8b8" stroke-width="6.4" opacity="0.35" stroke-dasharray="2 1.5 1 3 3 2 1 2.5"/>
<use href="#c6" fill="#c8c8c8"/>
<g clip-path="url(#clip_c6)"><use href="#c6" fill="#d6d6d6" transform="translate(807.40 496.30) scale(0.966) translate(-807.40 -504.50)" filter="url(#bl)"/><use href="#c6" fill="url(#wg)" transform="translate(807.40 496.30) scale(0.960) translate(-807.40 -504.50)"/></g>
<use href="#c6" fill="none" stroke="#0c0c0c" stroke-width="2.2"/>
<path d="M920.4 206.4 L920.8 206.9 L921.3 207.5 L921.7 208.0 L922.2 208.5 L922.6 209.0 L923.1 209.6 L923.6 210.1 L924.0 210.6 L924.5 211.1 L925.0 211.6 L925.5 212.1 L926.0 212.5 L926.5 213.0 L927.0 213.5" fill="none" stroke="#151515" stroke-width="1.6"/>
<path d="M704.2 204.5 L705.1 207.7 L706.4 210.8 L707.8 213.8 L709.6 216.6 L711.5 219.3 L713.7 221.8 L716.1 224.1 L718.7 226.2 L721.4 228.0 L724.3 229.7 L727.4 231.0 L730.5 232.1 L733.7 233.0 L737.0 233.5" fill="none" stroke="#151515" stroke-width="1.6"/>
<path d="M845.4 559.6 L846.8 561.1 L848.4 562.5 L850.0 563.8 L851.7 565.1 L853.4 566.2 L855.3 567.1 L857.2 568.0 L859.1 568.7 L861.1 569.4 L863.1 569.9 L865.2 570.2 L867.2 570.4 L869.3 570.5 L871.4 570.5" fill="none" stroke="#151515" stroke-width="1.6"/>
<ellipse cx="331.0" cy="246.3" rx="10.9" ry="8.4" fill="none" stroke="#8a8a8a" stroke-width="4" opacity="0.55"/><ellipse cx="343.5" cy="246.3" rx="10.6" ry="8.6" fill="none" stroke="#8a8a8a" stroke-width="4" opacity="0.55"/><ellipse cx="331.0" cy="246.3" rx="10.7" ry="8.2" fill="#111" stroke="#0e0e0e" stroke-width="2.4"/><ellipse cx="343.5" cy="246.3" rx="10.4" ry="8.4" fill="#111" stroke="#0e0e0e" stroke-width="2.4"/><ellipse cx="331.0" cy="246.3" rx="9.6" ry="7.1" fill="#cdcdcd"/><ellipse cx="343.5" cy="246.3" rx="9.3" ry="7.3" fill="#cdcdcd"/><ellipse cx="331.0" cy="245.5" rx="9.2" ry="6.3" fill="#f3f3f3"/><ellipse cx="343.5" cy="245.5" rx="8.9" ry="6.5" fill="#f3f3f3"/>
<ellipse cx="365.0" cy="255.9" rx="7.0" ry="4.9" fill="none" stroke="#8a8a8a" stroke-width="4" opacity="0.55"/><ellipse cx="365.0" cy="255.9" rx="6.8" ry="4.7" fill="#111" stroke="#0e0e0e" stroke-width="2.4"/><ellipse cx="365.0" cy="255.9" rx="5.7" ry="3.6" fill="#cdcdcd"/><ellipse cx="365.0" cy="255.1" rx="5.3" ry="2.8" fill="#f3f3f3"/>
<ellipse cx="692.3" cy="243.4" rx="12.7" ry="7.8" fill="none" stroke="#8a8a8a" stroke-width="4" opacity="0.55"/><ellipse cx="692.3" cy="243.4" rx="12.5" ry="7.6" fill="#111" stroke="#0e0e0e" stroke-width="2.4"/><ellipse cx="692.3" cy="243.4" rx="11.4" ry="6.5" fill="#cdcdcd"/><ellipse cx="692.3" cy="242.6" rx="11.0" ry="5.7" fill="#f3f3f3"/>
<ellipse cx="662.0" cy="255.6" rx="10.2" ry="6.8" fill="none" stroke="#8a8a8a" stroke-width="4" opacity="0.55"/><ellipse cx="662.0" cy="255.6" rx="10.0" ry="6.6" fill="#111" stroke="#0e0e0e" stroke-width="2.4"/><ellipse cx="662.0" cy="255.6" rx="8.9" ry="5.5" fill="#cdcdcd"/><ellipse cx="662.0" cy="254.8" rx="8.5" ry="4.7" fill="#f3f3f3"/>
<ellipse cx="276.7" cy="407.9" rx="12.8" ry="7.8" fill="none" stroke="#8a8a8a" stroke-width="4" opacity="0.55"/><ellipse cx="276.7" cy="407.9" rx="12.6" ry="7.6" fill="#111" stroke="#0e0e0e" stroke-width="2.4"/><ellipse cx="276.7" cy="407.9" rx="11.5" ry="6.5" fill="#cdcdcd"/><ellipse cx="276.7" cy="407.1" rx="11.1" ry="5.7" fill="#f3f3f3"/>
<ellipse cx="300.7" cy="416.0" rx="6.9" ry="4.9" fill="none" stroke="#8a8a8a" stroke-width="4" opacity="0.55"/><ellipse cx="300.7" cy="416.0" rx="6.7" ry="4.7" fill="#111" stroke="#0e0e0e" stroke-width="2.4"/><ellipse cx="300.7" cy="416.0" rx="5.6" ry="3.6" fill="#cdcdcd"/><ellipse cx="300.7" cy="415.2" rx="5.2" ry="2.8" fill="#f3f3f3"/>
<ellipse cx="341.7" cy="427.5" rx="13.9" ry="8.7" fill="none" stroke="#8a8a8a" stroke-width="4" opacity="0.55"/><ellipse cx="341.7" cy="427.5" rx="13.7" ry="8.5" fill="#111" stroke="#0e0e0e" stroke-width="2.4"/><ellipse cx="341.7" cy="427.5" rx="12.6" ry="7.4" fill="#cdcdcd"/><ellipse cx="341.7" cy="426.7" rx="12.2" ry="6.6" fill="#f3f3f3"/>
<ellipse cx="746.4" cy="405.5" rx="11.6" ry="8.1" fill="none" stroke="#8a8a8a" stroke-width="4" opacity="0.55"/><ellipse cx="746.4" cy="405.5" rx="11.4" ry="7.9" fill="#111" stroke="#0e0e0e" stroke-width="2.4"/><ellipse cx="746.4" cy="405.5" rx="10.3" ry="6.8" fill="#cdcdcd"/><ellipse cx="746.4" cy="404.7" rx="9.9" ry="6.0" fill="#f3f3f3"/>
<ellipse cx="721.5" cy="411.4" rx="7.2" ry="4.6" fill="none" stroke="#8a8a8a" stroke-width="4" opacity="0.55"/><ellipse cx="721.5" cy="411.4" rx="7.0" ry="4.4" fill="#111" stroke="#0e0e0e" stroke-width="2.4"/><ellipse cx="721.5" cy="411.4" rx="5.9" ry="3.3" fill="#cdcdcd"/><ellipse cx="721.5" cy="410.6" rx="5.5" ry="2.5" fill="#f3f3f3"/>
<ellipse cx="670.0" cy="426.6" rx="10.7" ry="8.0" fill="none" stroke="#8a8a8a" stroke-width="4" opacity="0.55"/><ellipse cx="677.0" cy="426.6" rx="10.7" ry="8.1" fill="none" stroke="#8a8a8a" stroke-width="4" opacity="0.55"/><ellipse cx="670.0" cy="426.6" rx="10.5" ry="7.8" fill="#111" stroke="#0e0e0e" stroke-width="2.4"/><ellipse cx="677.0" cy="426.6" rx="10.5" ry="7.9" fill="#111" stroke="#0e0e0e" stroke-width="2.4"/><ellipse cx="670.0" cy="426.6" rx="9.4" ry="6.7" fill="#cdcdcd"/><ellipse cx="677.0" cy="426.6" rx="9.4" ry="6.8" fill="#cdcdcd"/><ellipse cx="670.0" cy="425.8" rx="9.0" ry="5.9" fill="#f3f3f3"/><ellipse cx="677.0" cy="425.8" rx="9.0" ry="6.0" fill="#f3f3f3"/>
<ellipse cx="698.0" cy="444.2" rx="9.5" ry="6.3" fill="none" stroke="#8a8a8a" stroke-width="4" opacity="0.55"/><ellipse cx="698.0" cy="444.2" rx="9.3" ry="6.1" fill="#111" stroke="#0e0e0e" stroke-width="2.4"/><ellipse cx="698.0" cy="444.2" rx="8.2" ry="5.0" fill="#cdcdcd"/><ellipse cx="698.0" cy="443.4" rx="7.8" ry="4.2" fill="#f3f3f3"/>
<text x="118.5" y="156.0" font-size="21.5" fill="#1c1c1c" stroke="#1c1c1c" stroke-width="0.20" textLength="225.4" lengthAdjust="spacingAndGlyphs">Physical Security Box</text>
<text x="120.1" y="185.0" font-size="15.5" fill="#232323" stroke="#232323" stroke-width="0.00" textLength="238.1" lengthAdjust="spacingAndGlyphs">A Pnysied Guardian for Your Home</text>
<text x="700.7" y="156.0" font-size="21.5" fill="#1c1c1c" stroke="#1c1c1c" stroke-width="0.20" textLength="224.0" lengthAdjust="spacingAndGlyphs">Zero Data Harvesting</text>
<text x="740.2" y="184.0" font-size="15.5" fill="#232323" stroke="#232323" stroke-width="0.00" textLength="156.0" lengthAdjust="spacingAndGlyphs">Your Daia Stays Home</text>
<text x="81.1" y="343.0" font-size="21.5" fill="#1c1c1c" stroke="#1c1c1c" stroke-width="0.20" textLength="168.0" lengthAdjust="spacingAndGlyphs">Protects Every</text>
<text x="127.9" y="374.0" font-size="21.5" fill="#1c1c1c" stroke="#1c1c1c" stroke-width="0.20" textLength="78.4" lengthAdjust="spacingAndGlyphs">Device</text>
<text x="805.0" y="335.0" font-size="21.5" fill="#1c1c1c" stroke="#1c1c1c" stroke-width="0.20" textLength="104.2" lengthAdjust="spacingAndGlyphs">Free VPN</text>
<text x="744.4" y="362.0" font-size="15.5" fill="#232323" stroke="#232323" stroke-width="0.00" textLength="237.8" lengthAdjust="spacingAndGlyphs">Encrypted VPN for all customers</text>
<text x="154.3" y="498.0" font-size="21.5" fill="#1c1c1c" stroke="#1c1c1c" stroke-width="0.20" textLength="172.1" lengthAdjust="spacingAndGlyphs">No Subscnption</text>
<text x="142.9" y="523.0" font-size="15.5" fill="#232323" stroke="#232323" stroke-width="0.00" textLength="194.8" lengthAdjust="spacingAndGlyphs">Pay once and never again</text>
<text x="705.7" y="498.0" font-size="21.5" fill="#1c1c1c" stroke="#1c1c1c" stroke-width="0.20" textLength="214.1" lengthAdjust="spacingAndGlyphs">Plug &amp; Play Security</text>
<text x="698.5" y="525.0" font-size="15.5" fill="#232323" stroke="#232323" stroke-width="0.00" textLength="227.0" lengthAdjust="spacingAndGlyphs">Enterprise Power, Made Simple</text>
<text x="387.5" y="292.6" font-size="48" font-weight="bold" fill="#e6141c" stroke="#e6141c" stroke-width="5" stroke-linejoin="miter" textLength="252.5" lengthAdjust="spacingAndGlyphs">FIREGATE</text>
<rect x="350.5" y="305.2" width="315" height="35.6" rx="8" fill="url(#ban)" filter="url(#bl2)"/>
<path d="M362 305.5h290" stroke="#7a4a48" stroke-width="1" stroke-dasharray="3 1 5 2 2 1" opacity="0.7"/>
<text x="365.3" y="331" font-size="21" fill="#fafafa" stroke="#fafafa" stroke-width="0.75" textLength="282" lengthAdjust="spacingAndGlyphs">Cyber Security Made Simple</text>
</svg></body></html>
